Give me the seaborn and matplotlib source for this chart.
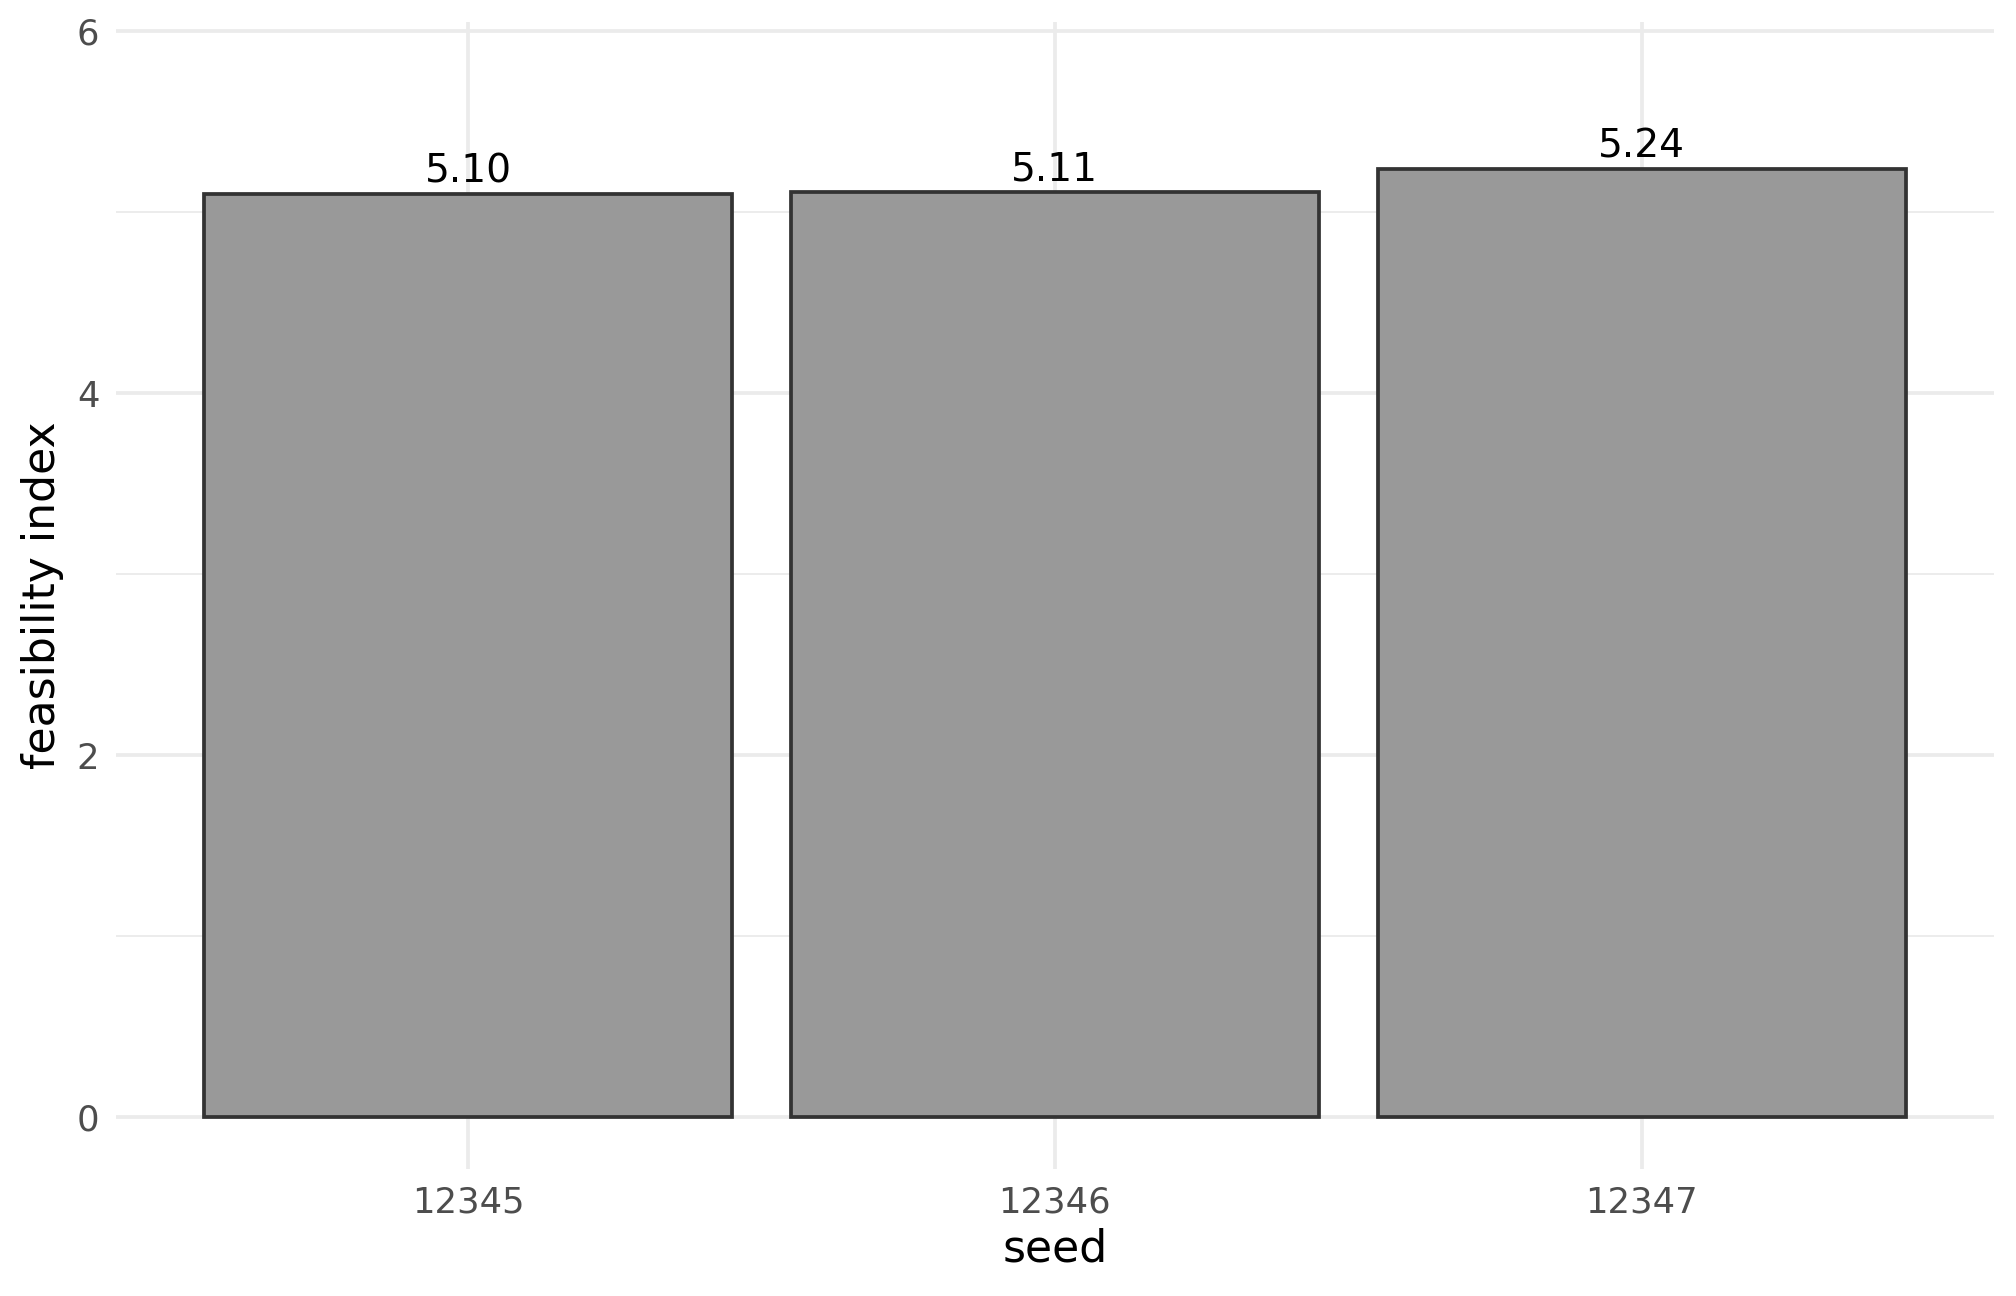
import pandas as pd
import seaborn as sns
import matplotlib.pyplot as plt

# Data
seeds = ["12345", "12346", "12347"]
feasibility = [5.10, 5.11, 5.24]

df = pd.DataFrame({"seed": seeds, "feasibility index": feasibility})

sns.set_theme(style="white")
plt.rcParams['font.family'] = ['DejaVu Sans']

fig, ax = plt.subplots(figsize=(6.72, 4.32), dpi=300)
fig.subplots_adjust(left=0.0575, right=0.989, top=0.983, bottom=0.098)

sns.barplot(data=df, x="seed", y="feasibility index", color="#999999",
            edgecolor="#333333", linewidth=0.9, width=0.9, saturation=1, ax=ax)

# value labels above bars
for c in ax.containers:
    ax.bar_label(c, fmt="%.2f", padding=0.8, fontsize=9.4, color="black")

ax.set_xlim(-0.6, 2.6)
ax.set_ylim(-0.286, 6.05)
ax.set_yticks([0, 2, 4, 6])
ax.set_yticks([1, 3, 5], minor=True)

# ggplot minimal-like grid
ax.set_axisbelow(True)
ax.grid(True, which="major", color="#EBEBEB", linewidth=0.9)
ax.grid(True, which="minor", axis="y", color="#EBEBEB", linewidth=0.45)
for s in ax.spines.values():
    s.set_visible(False)

ax.tick_params(axis="both", which="both", length=0, labelsize=8.5,
               labelcolor="#4D4D4D", pad=4)
ax.set_xlabel("seed", fontsize=10.6, color="black", labelpad=2)
ax.set_ylabel("feasibility index", fontsize=10.6, color="black", labelpad=3)

plt.savefig("out.png", dpi=300)
